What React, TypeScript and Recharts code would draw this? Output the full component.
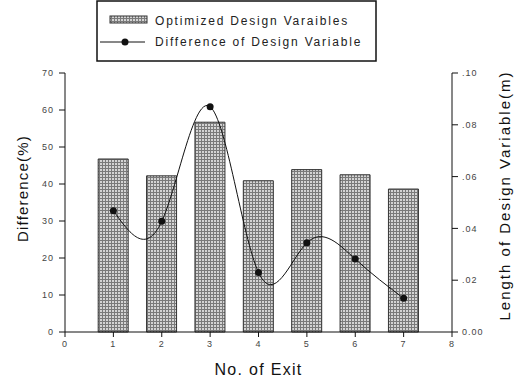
import React from 'react';
import { ComposedChart, Bar, Line, XAxis, YAxis } from 'recharts';

// values
const exits = [1, 2, 3, 4, 5, 6, 7];
const designLength = [0.0668, 0.0603, 0.081, 0.0584, 0.0627, 0.0607, 0.0552]; // m, right axis
const differencePct = [32.8, 29.9, 60.9, 16.1, 24.1, 19.7, 9.1]; // %, left axis
const xTicks = [0, 1, 2, 3, 4, 5, 6, 7, 8];
const leftTicks = [0, 10, 20, 30, 40, 50, 60, 70];
const rightTicks = [0, 0.02, 0.04, 0.06, 0.08, 0.1];

const data = exits.map((exit, i) => ({
  exit,
  length: designLength[i],
  diff: differencePct[i],
}));

const FONT = '"Liberation Sans", Arial, sans-serif';
const tickStyle = { fontSize: 9, fill: '#444', fontFamily: FONT, letterSpacing: 1 };

const fmtRight = (v: number) => (v === 0 ? '0.00' : v.toFixed(2).replace(/^0/, ''));

// rotated axis titles, placed relative to the axis box
const LeftTitle = (props: any) => {
  const { viewBox } = props;
  const x = viewBox.x + 22;
  const y = viewBox.y + viewBox.height / 2 - 14;
  return (
    <text x={x} y={y} transform={`rotate(-90 ${x} ${y})`} textAnchor="middle" dominantBaseline="central"
      fontSize={15} fontFamily={FONT} letterSpacing={1.2} fill="#111">
      Difference(%)
    </text>
  );
};

const RightTitle = (props: any) => {
  const { viewBox } = props;
  const x = viewBox.x + 52;
  const y = viewBox.y + viewBox.height / 2 - 7;
  return (
    <text x={x} y={y} transform={`rotate(-90 ${x} ${y})`} textAnchor="middle" dominantBaseline="central"
      fontSize={15} fontFamily={FONT} letterSpacing={2} fill="#111">
      Length of Design Variable(m)
    </text>
  );
};

const BottomTitle = (props: any) => {
  const { viewBox } = props;
  return (
    <text x={viewBox.x + viewBox.width / 2} y={viewBox.y + 43} textAnchor="middle"
      fontSize={16} fontFamily={FONT} letterSpacing={1.3} fill="#111">
      No. of Exit
    </text>
  );
};

// legend box drawn on top of the chart
const LegendBox = () => (
  <svg width={282} height={64} style={{ position: 'absolute', left: 96, top: 0 }}>
    <defs>
      <pattern id="hatchLegend" width={3} height={3} patternUnits="userSpaceOnUse">
        <rect width={3} height={3} fill="#d4d4d4" />
        <path d="M0 0.5H3M0.5 0V3" stroke="#7a7a7a" strokeWidth={1} />
      </pattern>
    </defs>
    <rect x={1} y={1} width={279} height={60} fill="#fff" stroke="#111" strokeWidth={1.5} />
    <rect x={14} y={16} width={37} height={7} fill="url(#hatchLegend)" stroke="#333" strokeWidth={1} />
    <text x={59} y={25} fontSize={12} fontFamily={FONT} letterSpacing={1.8} fill="#222">
      Optimized Design Varaibles
    </text>
    <line x1={4} y1={42} x2={49} y2={42} stroke="#111" strokeWidth={1} />
    <circle cx={29} cy={42} r={3.5} fill="#111" />
    <text x={59} y={46} fontSize={12} fontFamily={FONT} letterSpacing={1.8} fill="#222">
      Difference of Design Variable
    </text>
  </svg>
);

export default function App() {
  return (
    <div style={{ position: 'absolute', left: 0, top: 0, width: 518, height: 378, background: '#fff' }}>
      <ComposedChart width={518} height={378} data={data} margin={{ top: 73, right: 0, bottom: 0, left: 0 }}>
        <defs>
          <pattern id="hatch" width={3} height={3} patternUnits="userSpaceOnUse">
            <rect width={3} height={3} fill="#d4d4d4" />
            <path d="M0 0.5H3M0.5 0V3" stroke="#7a7a7a" strokeWidth={1} />
          </pattern>
        </defs>
        <XAxis
          dataKey="exit"
          type="number"
          domain={[0, 8]}
          ticks={xTicks}
          height={46}
          tickSize={5}
          tickMargin={4}
          stroke="#111"
          tick={tickStyle}
          label={<BottomTitle />}
        />
        <YAxis
          yAxisId="left"
          orientation="left"
          domain={[0, 70]}
          ticks={leftTicks}
          width={65}
          tickSize={6}
          tickMargin={5}
          stroke="#111"
          tick={tickStyle}
          label={<LeftTitle />}
        />
        <YAxis
          yAxisId="right"
          orientation="right"
          domain={[0, 0.1]}
          ticks={rightTicks}
          tickFormatter={fmtRight}
          width={66}
          tickSize={6}
          tickMargin={4}
          stroke="#111"
          tick={tickStyle}
          label={<RightTitle />}
        />
        <Bar
          yAxisId="right"
          dataKey="length"
          barSize={30}
          fill="url(#hatch)"
          stroke="#333"
          strokeWidth={1}
          isAnimationActive={false}
        />
        <Line
          yAxisId="left"
          type="natural"
          dataKey="diff"
          stroke="#111"
          strokeWidth={1}
          dot={{ r: 3.5, fill: '#111', stroke: '#111', strokeWidth: 0 }}
          activeDot={false}
          isAnimationActive={false}
        />
      </ComposedChart>
      <LegendBox />
    </div>
  );
}
